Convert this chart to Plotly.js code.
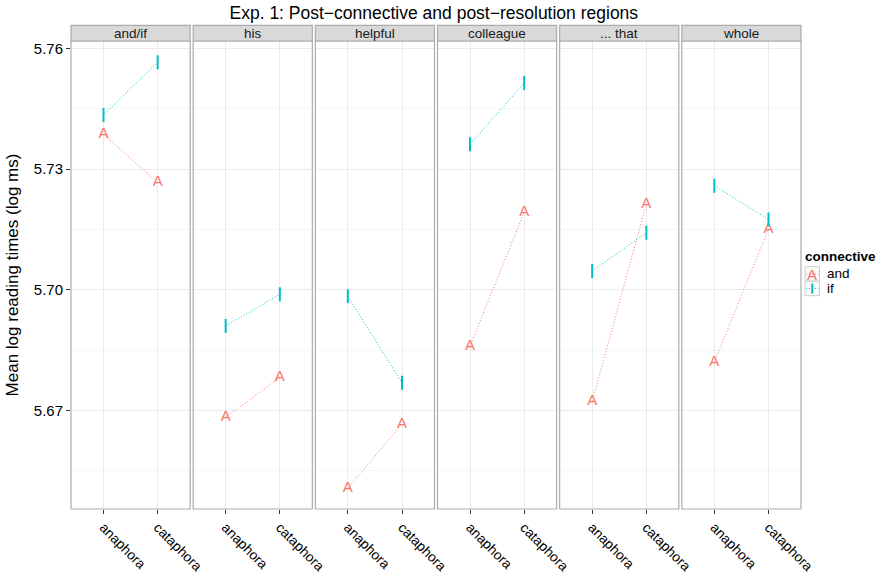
<!DOCTYPE html>
<html>
<head>
<meta charset="utf-8">
<script src="https://cdn.plot.ly/plotly-3.0.1.min.js"></script>
<style>html,body{margin:0;padding:0;background:#fff;}</style>
</head>
<body>
<div id="chart" style="width:877px;height:574px;"></div>
<script>
// ---- data ----
const regions = ['and/if', 'his', 'helpful', 'colleague', '... that', 'whole'];
const conditions = ['anaphora', 'cataphora'];
const andAnaphora  = [5.7387, 5.6683, 5.6507, 5.6860, 5.6723, 5.6820];
const andCataphora = [5.7267, 5.6782, 5.6666, 5.7193, 5.7212, 5.7151];
const ifAnaphora   = [5.7435, 5.6910, 5.6984, 5.7362, 5.7047, 5.7259];
const ifCataphora  = [5.7566, 5.6989, 5.6769, 5.7514, 5.7142, 5.7175];
const yTicks = [5.67, 5.70, 5.73, 5.76];
const seriesNames = ['and', 'if'];

// ---- styling ----
const RED = '#F8766D', TEAL = '#00BFC4';
const FONT = 'Liberation Sans, Arial, Helvetica, sans-serif';
const W = 877, H = 574;
const M = {l: 71, r: 76, t: 41, b: 65};
const plotW = W - M.l - M.r, plotH = H - M.t - M.b;
const gap = 3 / plotW;
const pw = (1 - 5 * gap) / 6;
const px = v => (v - M.l) / plotW;      // pixel -> paper x
const py = v => 1 - (v - M.t) / plotH;  // pixel -> paper y
const DOT = '1px,2px';

const traces = [];
const layout = {
  width: W, height: H,
  margin: M,
  paper_bgcolor: '#fff', plot_bgcolor: '#fff',
  showlegend: false,
  font: {family: FONT, color: '#000'},
  title: {text: 'Exp. 1: Post\u2212connective and post\u2212resolution regions',
          font: {size: 17.5, color: '#000', family: FONT},
          x: 0.497, xref: 'paper', xanchor: 'center', y: 1 - 13 / H, yanchor: 'middle'},
  yaxis: {
    range: [5.64552, 5.76187],
    tickvals: yTicks, ticktext: yTicks.map(v => v.toFixed(2)),
    ticks: 'outside', ticklen: 4, tickcolor: '#333', tickwidth: 1,
    tickfont: {size: 15, color: '#000', family: FONT},
    showgrid: true, gridcolor: '#ebebeb', gridwidth: 1,
    minor: {tickvals: [5.655, 5.685, 5.715, 5.745], showgrid: true, gridcolor: '#f5f5f5', gridwidth: 1, ticks: ''},
    zeroline: false, showline: false,
    title: {text: 'Mean log reading times (log ms)', font: {size: 17, color: '#000', family: FONT}, standoff: 10},
    anchor: 'x'
  },
  shapes: [],
  annotations: []
};

regions.forEach((reg, i) => {
  const ax = i === 0 ? 'x' : 'x' + (i + 1);
  const axKey = i === 0 ? 'xaxis' : 'xaxis' + (i + 1);
  const d0 = i * (pw + gap), d1 = d0 + pw;
  layout[axKey] = {
    domain: [d0, d1], anchor: 'y',
    type: 'category', categoryarray: conditions, range: [-0.6, 1.6],
    ticks: 'outside', ticklen: 4, tickcolor: '#333', tickwidth: 1,
    tickangle: 45, tickfont: {size: 13.8, color: '#000', family: FONT},
    showgrid: true, gridcolor: '#ebebeb', gridwidth: 1,
    zeroline: false, showline: false, fixedrange: true
  };
  traces.push({
    x: conditions, y: [andAnaphora[i], andCataphora[i]],
    xaxis: ax, yaxis: 'y', name: seriesNames[0],
    type: 'scatter', mode: 'lines+text', text: ['A', 'A'],
    textposition: 'middle center',
    textfont: {size: 15, color: RED, family: FONT},
    line: {color: RED, width: 1, dash: DOT}, hoverinfo: 'skip'
  });
  traces.push({
    x: conditions, y: [ifAnaphora[i], ifCataphora[i]],
    xaxis: ax, yaxis: 'y', name: seriesNames[1],
    type: 'scatter', mode: 'lines+markers',
    marker: {symbol: 'line-ns', size: 10, line: {color: TEAL, width: 2}, color: TEAL},
    line: {color: TEAL, width: 1, dash: DOT}, hoverinfo: 'skip'
  });
  // panel border
  layout.shapes.push({type: 'rect', xref: 'paper', yref: 'paper', x0: d0, x1: d1, y0: 0, y1: 1,
    line: {color: '#ababab', width: 1.2}, fillcolor: 'rgba(0,0,0,0)', layer: 'above'});
  // strip
  layout.shapes.push({type: 'rect', xref: 'paper', yref: 'paper', x0: d0, x1: d1, y0: 1, y1: py(25.3),
    line: {color: '#ababab', width: 1.2}, fillcolor: '#d9d9d9', layer: 'above'});
  layout.annotations.push({text: reg, xref: 'paper', yref: 'paper', x: (d0 + d1) / 2, y: py(33.3),
    xanchor: 'center', yanchor: 'middle', showarrow: false,
    font: {size: 13.5, color: '#1a1a1a', family: FONT}});
});

// ---- manual legend ----
const lx0 = px(805), lx1 = px(819.5);
const rows = [[266.7, 281.2], [281.2, 295.7]];
layout.annotations.push({text: '<b>connective</b>', xref: 'paper', yref: 'paper', x: px(803.5), y: py(256.5),
  xanchor: 'left', yanchor: 'middle', showarrow: false, font: {size: 13.5, color: '#000', family: FONT}});
rows.forEach((r, k) => {
  layout.shapes.push({type: 'rect', xref: 'paper', yref: 'paper', x0: lx0, x1: lx1, y0: py(r[0]), y1: py(r[1]),
    line: {color: '#cccccc', width: 1}, fillcolor: '#fafafa', layer: 'above'});
  const cy = (r[0] + r[1]) / 2;
  layout.shapes.push({type: 'line', xref: 'paper', yref: 'paper', x0: px(806), x1: px(818.5), y0: py(cy), y1: py(cy),
    line: {color: k === 0 ? RED : TEAL, width: 1, dash: DOT}, layer: 'above'});
  layout.annotations.push({text: seriesNames[k], xref: 'paper', yref: 'paper', x: px(824.5), y: py(cy),
    xanchor: 'left', yanchor: 'middle', showarrow: false, font: {size: 13.5, color: '#000', family: FONT}});
});
layout.annotations.push({text: 'A', xref: 'paper', yref: 'paper', x: px(812.3), y: py(274),
  xanchor: 'center', yanchor: 'middle', showarrow: false, font: {size: 15, color: RED, family: FONT}});
layout.shapes.push({type: 'line', xref: 'paper', yref: 'paper', x0: px(812.3), x1: px(812.3), y0: py(283.5), y1: py(293.5),
  line: {color: TEAL, width: 2}, layer: 'above'});

Plotly.newPlot('chart', traces, layout, {displayModeBar: false, staticPlot: true});
</script>
</body>
</html>
